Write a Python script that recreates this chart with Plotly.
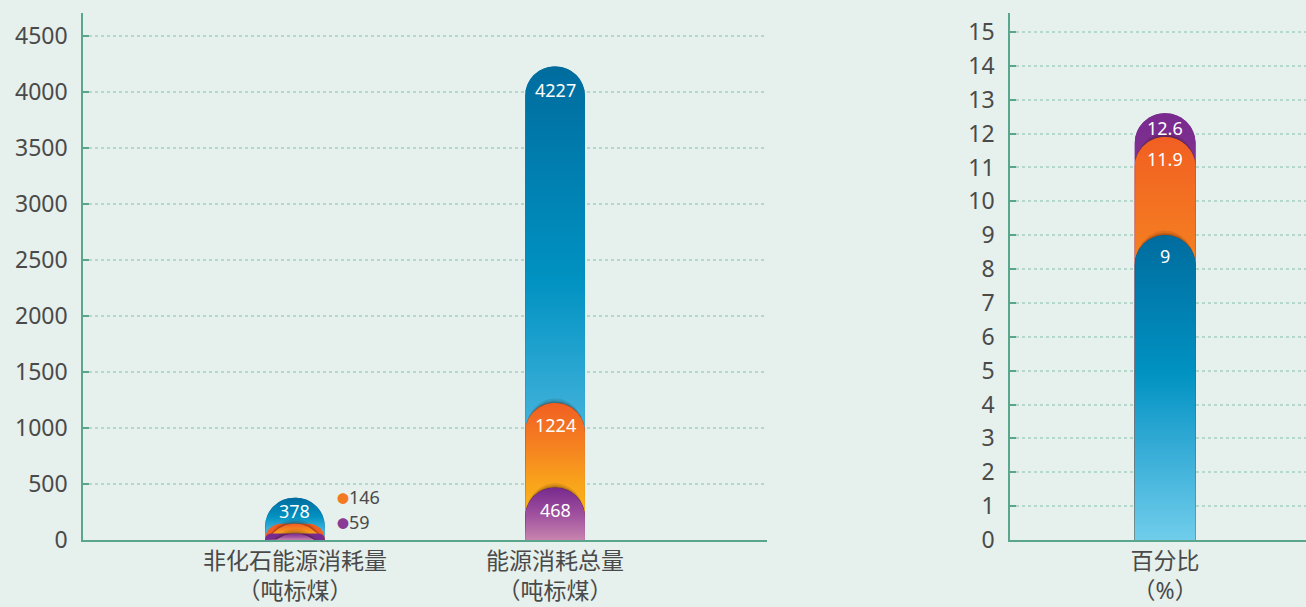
import math
import plotly.graph_objects as go

# ---- data ----
left_categories = ["非化石能源消耗量<br>（吨标煤）", "能源消耗总量<br>（吨标煤）"]
left_blue = [378, 4227]
left_orange = [146, 1224]
left_purple = [59, 468]

right_categories = ["百分比<br>（%）"]
right_purple = [12.6]
right_orange = [11.9]
right_blue = [9]

left_yticks = [0, 500, 1000, 1500, 2000, 2500, 3000, 3500, 4000, 4500]
right_yticks = list(range(0, 16))

# ---- styles ----
BLUE_SCALE = [[0, "#70CDEB"], [0.3, "#35ACD6"], [0.55, "#0092C2"], [1, "#006C9E"]]
ORANGE_SCALE = [[0, "#FDC013"], [0.4, "#F9A51B"], [0.75, "#F47A21"], [1, "#F15F22"]]
PURPLE_SCALE = [[0, "#C884AE"], [0.5, "#9E4F9E"], [1, "#782A8E"]]
BG = "#E6F0EC"
AXIS = "#5AA68C"
GRID = "#B5D8CC"
TXT = "#4A4A4A"
FONT = "Noto Sans, Noto Sans CJK SC, sans-serif"

W, H = 1306, 607
L_PX = (83, 767)
R_PX = (1010, 1306)
Y_PX = (13, 540)
L_DOM = [L_PX[0] / W, L_PX[1] / W]
R_DOM = [R_PX[0] / W, R_PX[1] / W]
YDOM = [(H - Y_PX[1]) / H, (H - Y_PX[0]) / H]
L_RANGE = [-0.815, 1.815]
R_RANGE = [-0.524, 0.476]
LY_RANGE = [0, 4705]
RY_RANGE = [0, 15.56]
LW = 0.23
RW = 0.206

fig = go.Figure()

lx = list(range(len(left_categories)))
rx = list(range(len(right_categories)))


def scales(xr, xpx, yr):
    ppx = (xpx[1] - xpx[0]) / (xr[1] - xr[0])
    ppy = (Y_PX[1] - Y_PX[0]) / (yr[1] - yr[0])
    return ppx, ppy


def outline(xi, v, width, ppx, ppy, extra_px=0.0):
    """rounded-top bar outline (in data units) for a bar of value v"""
    r_px = width * ppx / 2
    yc = v - r_px / ppy
    n = 48
    xs, ys = [xi - width / 2], [0]
    for k in range(n + 1):
        t = math.pi * (1 - k / n)
        xs.append(xi + r_px * math.cos(t) / ppx)
        ys.append(max(0.0, yc + (r_px + extra_px) * math.sin(t) / ppy))
    xs += [xi + width / 2, xi - width / 2]
    ys += [0, 0]
    return xs, ys


def add_series(xs, vals, scale, width, xaxis, yaxis, ppx, ppy, shadow):
    top = scale[-1][1]
    fig.add_trace(go.Bar(x=xs, y=vals, width=width,
                         marker=dict(color=top, cornerradius="50%", line=dict(width=0)),
                         xaxis=xaxis, yaxis=yaxis, hoverinfo="skip", showlegend=False))
    for xi, v in zip(xs, vals):
        if shadow:
            for extra, alpha in [(4.5, 0.10), (2.5, 0.14), (1.2, 0.18)]:
                sx, sy = outline(xi, v, width, ppx, ppy, extra)
                fig.add_trace(go.Scatter(x=sx, y=sy, mode="lines", fill="toself",
                                         fillcolor=f"rgba(50,20,10,{alpha})", line=dict(width=0),
                                         xaxis=xaxis, yaxis=yaxis, hoverinfo="skip", showlegend=False))
        px_, py_ = outline(xi, v, width, ppx, ppy)
        fig.add_trace(go.Scatter(
            x=px_, y=py_, mode="lines", fill="toself",
            line=dict(width=0, color=top),
            fillgradient=dict(type="vertical", colorscale=scale, start=0, stop=v),
            xaxis=xaxis, yaxis=yaxis, hoverinfo="skip", showlegend=False))


lppx, lppy = scales(L_RANGE, L_PX, LY_RANGE)
rppx, rppy = scales(R_RANGE, R_PX, RY_RANGE)

left_axes = ["x", "x3", "x5"]
right_axes = ["x2", "x4", "x6"]

for i, (ax, (vals, sc)) in enumerate(zip(left_axes, [(left_blue, BLUE_SCALE), (left_orange, ORANGE_SCALE),
                                                     (left_purple, PURPLE_SCALE)])):
    add_series(lx, vals, sc, LW, ax, "y", lppx, lppy, i > 0)
for i, (ax, (vals, sc)) in enumerate(zip(right_axes, [(right_purple, PURPLE_SCALE), (right_orange, ORANGE_SCALE),
                                                      (right_blue, BLUE_SCALE)])):
    add_series(rx, vals, sc, RW, ax, "y2", rppx, rppy, i > 0)

ann = []


def lab(x, y, text, xr, yr, shift):
    ann.append(dict(x=x, y=y, text=text, xref=xr, yref=yr, showarrow=False, yshift=shift,
                    font=dict(color="white", size=18, family=FONT), yanchor="middle"))


lab(0, left_blue[0], str(left_blue[0]), "x", "y", -13)
lab(1, left_blue[1], str(left_blue[1]), "x", "y", -23)
lab(1, left_orange[1], str(left_orange[1]), "x", "y", -22)
lab(1, left_purple[1], str(left_purple[1]), "x", "y", -22)
for yy, v, col in [(384, left_orange[0], "#F47A21"), (161, left_purple[0], "#8A3A94")]:
    ann.append(dict(x=0.155, y=yy, xref="x", yref="y", showarrow=False, xanchor="left", yanchor="middle",
                    text=f"<span style='color:{col};font-size:12px'>●</span>{v}",
                    font=dict(color=TXT, size=18, family=FONT)))

lab(0, right_purple[0], str(right_purple[0]), "x2", "y2", -15)
lab(0, right_orange[0], str(right_orange[0]), "x2", "y2", -22)
lab(0, right_blue[0], str(right_blue[0]), "x2", "y2", -21)

axis_common = dict(showline=True, linecolor=AXIS, linewidth=1.5, zeroline=False,
                   tickfont=dict(size=23, color=TXT, family=FONT))

layout = dict(
    width=W, height=H,
    margin=dict(l=0, r=0, t=0, b=0),
    paper_bgcolor=BG, plot_bgcolor=BG,
    barmode="overlay",
    font=dict(family=FONT, color=TXT),
    annotations=ann,
    xaxis=dict(domain=L_DOM, range=L_RANGE, tickvals=lx, ticktext=left_categories,
               showgrid=False, ticks="", anchor="y", automargin=False, **axis_common),
    yaxis=dict(domain=YDOM, range=LY_RANGE, tickvals=left_yticks,
               showgrid=True, gridcolor=GRID, griddash="dot", gridwidth=1.5,
               ticks="inside", ticklen=6, tickcolor=AXIS, tickwidth=1.5, anchor="x", automargin=False,
               ticklabelstandoff=9, **axis_common),
    xaxis2=dict(domain=R_DOM, range=R_RANGE, tickvals=rx, ticktext=right_categories,
                showgrid=False, ticks="", anchor="y2", automargin=False, **axis_common),
    yaxis2=dict(domain=YDOM, range=RY_RANGE, tickvals=right_yticks,
                showgrid=True, gridcolor=GRID, griddash="dot", gridwidth=1.5,
                ticks="inside", ticklen=6, tickcolor=AXIS, tickwidth=1.5, anchor="x2", automargin=False,
                ticklabelstandoff=9, **axis_common),
)
for ax in left_axes[1:]:
    layout["xaxis" + ax[1:]] = dict(domain=L_DOM, range=L_RANGE, overlaying="x", visible=False, anchor="y")
for ax in right_axes[1:]:
    layout["xaxis" + ax[1:]] = dict(domain=R_DOM, range=R_RANGE, overlaying="x2", visible=False, anchor="y2")

fig.update_layout(**layout)
fig.write_html("out.html")
